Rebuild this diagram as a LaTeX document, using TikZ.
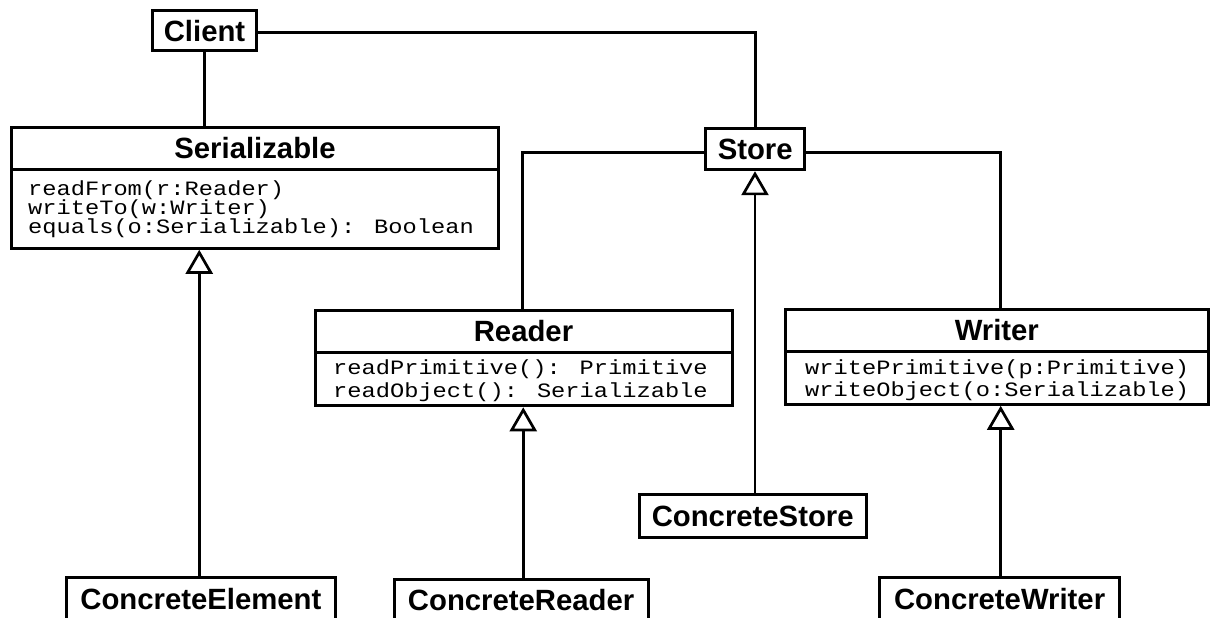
\documentclass[tikz,border=0pt]{standalone}
\usepackage{fontspec}
\setmainfont{Liberation Sans}
\newfontfamily\umlmono{Liberation Mono}
\usetikzlibrary{arrows.meta}

\newcommand\umltitle{\fontsize{29.3}{32}\selectfont\bfseries}
\newcommand\umlcode{\umlmono\fontsize{23.7}{26}\selectfont}
% operation text, slightly flattened to keep the compartments airy
\newcommand\op[1]{\scalebox{1}[0.86]{#1}}

\tikzset{
  box/.style={draw, line width=3pt, inner sep=0pt, font=\umltitle},
  code/.style={anchor=base west, inner sep=0pt, font=\umlcode},
  conn/.style={line width=2.7pt},
  gen/.style={line width=2.7pt, -{Triangle[open, length=24pt, width=27pt]}}
}

\begin{document}
\begin{tikzpicture}[x=1pt, y=-1pt]
\useasboundingbox (0,0) rectangle (1210,618);
\clip (0,0) rectangle (1210,618);

% client and store
\node[box, minimum width=104.4pt, minimum height=40pt] (client) at (204.5,30.7) {Client};
\node[box, minimum width=99pt, minimum height=41pt] (store) at (755.2,149.2) {Store};

% Serializable class
\node[box, minimum width=486.6pt, minimum height=41.7pt] (ser) at (255,148.15) {Serializable};
\node[box, minimum width=486.6pt, minimum height=79.3pt] (serm) at (255,208.65) {};
\node[code] (serm1) at (28,195.5) {\op{readFrom(r:Reader)}};
\node[code] (serm2) at (28,214.5) {\op{writeTo(w:Writer)}};
\node[code] (serm3) at (28,233.3) {\op{equals(o:Serializable): Boolean}};

% Reader class
\node[box, minimum width=417pt, minimum height=41.8pt] (reader) at (523.5,331.4) {Reader};
\node[box, minimum width=417pt, minimum height=53.5pt] (readerm) at (523.5,379.05) {};
\node[code] (readerm1) at (333,374) {\op{readPrimitive(): Primitive}};
\node[code] (readerm2) at (333,397.3) {\op{readObject(): Serializable}};

% Writer class
\node[box, minimum width=423pt, minimum height=41.5pt] (writer) at (996.8,330.25) {Writer};
\node[box, minimum width=423pt, minimum height=53.3pt] (writerm) at (996.8,377.65) {};
\node[code] (writerm1) at (805,374) {\op{writePrimitive(p:Primitive)}};
\node[code] (writerm2) at (805,396) {\op{writeObject(o:Serializable)}};

% concrete classes
\node[box, minimum width=227.3pt, minimum height=42.7pt] (cstore) at (752.7,516) {ConcreteStore};
\node[box, minimum width=268.5pt, minimum height=42.6pt] (celem) at (200.85,598.6) {ConcreteElement};
\node[box, minimum width=254.3pt, minimum height=42.6pt] (creader) at (521.15,600.3) {ConcreteReader};
\node[box, minimum width=240pt, minimum height=42.6pt] (cwriter) at (999.6,598.6) {ConcreteWriter};

% associations
\draw[conn] (client.south) -- (client.south |- ser.north);
\draw[conn] ([yshift=-1.6pt]client.east) -| (store.north);
\draw[conn] ([yshift=-3pt]store.west) -| ([xshift=-1.2pt]reader.north);
\draw[conn] ([yshift=-3pt]store.east) -| ([xshift=4pt]writer.north);

% generalizations
\draw[gen] ([xshift=-1.6pt]celem.north) -- ([xshift=-1.6pt]celem.north |- serm.south);
\draw[gen] ([xshift=2.1pt]creader.north) -- ([xshift=2.1pt]creader.north |- readerm.south);
\draw[gen] ([xshift=2.3pt]cstore.north) -- ([xshift=2.3pt]cstore.north |- store.south);
\draw[gen] ([xshift=1.1pt]cwriter.north) -- ([xshift=1.1pt]cwriter.north |- writerm.south);
\end{tikzpicture}
\end{document}
